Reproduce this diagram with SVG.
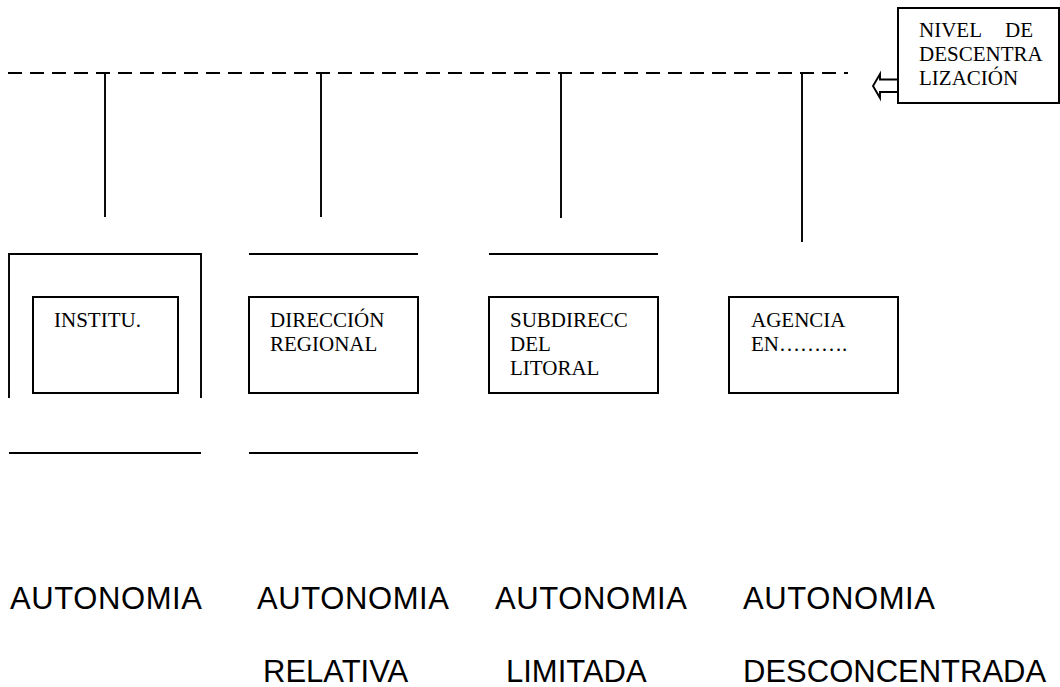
<svg xmlns="http://www.w3.org/2000/svg" width="1060" height="687" viewBox="0 0 1060 687">
  <style>
    .ln { stroke: #000; stroke-width: 1.9; fill: none; }
    .bx { stroke: #000; stroke-width: 2; fill: #fff; }
    .lbl { font-family: "Liberation Serif", "Times New Roman", serif; font-size: 21px; fill: #000; }
    .cap { font-family: "Liberation Sans", Arial, sans-serif; font-size: 31px; fill: #000; }
  </style>
  <rect width="1060" height="687" fill="#fff"/>

  <!-- connectors: dashed level line and drops to each unit -->
  <g id="connectors">
    <line class="ln" x1="8" y1="73" x2="848" y2="73" stroke-dasharray="14 8"/>
    <line class="ln" x1="105" y1="73" x2="105" y2="217"/>
    <line class="ln" x1="321" y1="73" x2="321" y2="217"/>
    <line class="ln" x1="561" y1="73" x2="561" y2="218"/>
    <line class="ln" x1="802" y1="73" x2="802" y2="242"/>
    <path class="ln" d="M898,79.5 L880,79.5 L880,74 L873,86 L880,98 L880,92 L898,92"/>
  </g>

  <g id="nivel">
    <rect class="bx" x="898" y="8" width="161" height="95"/>
    <text class="lbl" x="919" y="37">NIVEL</text>
    <text class="lbl" x="1005" y="37">DE</text>
    <text class="lbl" x="919" y="61">DESCENTRA</text>
    <text class="lbl" x="919" y="85">LIZACIÓN</text>
  </g>

  <g id="institu">
    <path class="ln" d="M9,398 L9,254 L201,254 L201,398"/>
    <line class="ln" x1="9" y1="453" x2="201" y2="453"/>
    <rect class="bx" x="33" y="297" width="145" height="96"/>
    <text class="lbl" x="54" y="327">INSTITU.</text>
  </g>

  <g id="direccion">
    <line class="ln" x1="249" y1="254" x2="418" y2="254"/>
    <line class="ln" x1="249" y1="453" x2="418" y2="453"/>
    <rect class="bx" x="249" y="297" width="169" height="96"/>
    <text class="lbl" x="270" y="327">DIRECCIÓN</text>
    <text class="lbl" x="270" y="351">REGIONAL</text>
  </g>

  <g id="subdireccion">
    <line class="ln" x1="489" y1="254" x2="658" y2="254"/>
    <rect class="bx" x="489" y="297" width="169" height="96"/>
    <text class="lbl" x="510" y="327">SUBDIRECC</text>
    <text class="lbl" x="510" y="351">DEL</text>
    <text class="lbl" x="510" y="375">LITORAL</text>
  </g>

  <g id="agencia">
    <rect class="bx" x="729" y="297" width="169" height="96"/>
    <text class="lbl" x="751" y="327">AGENCIA</text>
    <text class="lbl" x="751" y="351">EN……….</text>
  </g>

  <g id="captions">
    <text class="cap" x="10" y="609" textLength="192">AUTONOMIA</text>
    <text class="cap" x="257" y="609" textLength="192">AUTONOMIA</text>
    <text class="cap" x="495" y="609" textLength="192">AUTONOMIA</text>
    <text class="cap" x="743" y="609" textLength="192">AUTONOMIA</text>
    <text class="cap" x="263" y="682">RELATIVA</text>
    <text class="cap" x="506" y="682">LIMITADA</text>
    <text class="cap" x="743" y="682">DESCONCENTRADA</text>
  </g>
</svg>
